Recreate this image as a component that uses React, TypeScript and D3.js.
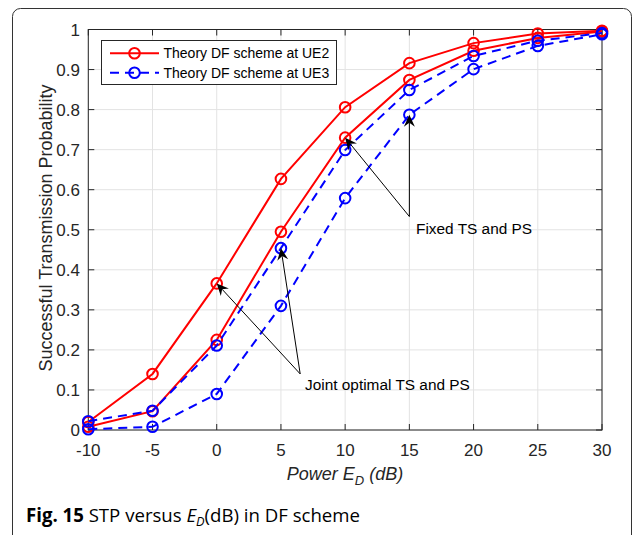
import React, { useEffect } from "react";
import * as d3 from "d3";

const xs = [-10, -5, 0, 5, 10, 15, 20, 25, 30];
const redJoint = [0.02, 0.14, 0.366, 0.627, 0.806, 0.916, 0.966, 0.99, 0.997];
const redFixed = [0.008, 0.047, 0.225, 0.495, 0.73, 0.874, 0.947, 0.979, 0.995];
const blueJoint = [0.022, 0.048, 0.211, 0.454, 0.699, 0.849, 0.934, 0.972, 0.991];
const blueFixed = [0.002, 0.008, 0.09, 0.31, 0.579, 0.787, 0.901, 0.959, 0.988];

const xTicks = [-10, -5, 0, 5, 10, 15, 20, 25, 30];
const yTicks = [0, 0.1, 0.2, 0.3, 0.4, 0.5, 0.6, 0.7, 0.8, 0.9, 1];
const legendLabels = ["Theory DF scheme at UE2", "Theory DF scheme at UE3"];
const jointText = "Joint optimal TS and PS";
const fixedText = "Fixed TS and PS";

const RED = "#ff0000";
const BLUE = "#0000ff";
const AX = "#262626";
const FONT = "'Liberation Sans', Arial, Helvetica, sans-serif";

function Arrow({ x1, y1, x2, y2 }: { x1: number; y1: number; x2: number; y2: number }) {
  const dx = x2 - x1, dy = y2 - y1;
  const L = Math.hypot(dx, dy);
  const ux = dx / L, uy = dy / L;
  const px = -uy, py = ux;
  const hl = 12, hw = 5.5, notch = 8;
  const bx = x2 - ux * hl, by = y2 - uy * hl;
  const nx = x2 - ux * notch, ny = y2 - uy * notch;
  const pts = [
    [x2, y2],
    [bx + px * hw, by + py * hw],
    [nx, ny],
    [bx - px * hw, by - py * hw],
  ];
  return (
    <g>
      <line x1={x1} y1={y1} x2={nx} y2={ny} stroke="#000" strokeWidth={1} />
      <polygon points={pts.map((p) => p.join(",")).join(" ")} fill="#000" />
    </g>
  );
}

export default function App() {
  useEffect(() => {
    document.body.style.margin = "0";
  }, []);

  const W = 636, H = 535;
  const x = d3.scaleLinear().domain([-10, 30]).range([88.3, 602]);
  const y = d3.scaleLinear().domain([0, 1]).range([430, 29.5]);
  const line = d3
    .line<number>()
    .x((_, i) => x(xs[i]))
    .y((d) => y(d));

  const series = [
    { data: redJoint, color: RED, dash: null },
    { data: redFixed, color: RED, dash: null },
    { data: blueJoint, color: BLUE, dash: "9,6" },
    { data: blueFixed, color: BLUE, dash: "9,6" },
  ];

  const x0 = x.range()[0], x1 = x.range()[1];
  const y0 = y.range()[0], y1 = y.range()[1];
  const tl = 6;

  const jointTail = { x: 6.5, y: 0.14 };
  const fixedTail = { x: 15, y: 0.533 };

  return (
    <svg width={W} height={H} style={{ display: "block" }}>
      <rect x={0} y={0} width={W} height={H} fill="#fff" />
      <rect x={12.5} y={8.5} width={619} height={600} rx={8} fill="none" stroke="#333" strokeWidth={1} />
      {xTicks.map((t) => (
        <line key={"gx" + t} x1={x(t)} x2={x(t)} y1={y0} y2={y1} stroke="#e3e3e3" strokeWidth={1} />
      ))}
      {yTicks.map((t) => (
        <line key={"gy" + t} x1={x0} x2={x1} y1={y(t)} y2={y(t)} stroke="#e3e3e3" strokeWidth={1} />
      ))}
      <rect x={x0} y={y1} width={x1 - x0} height={y0 - y1} fill="none" stroke={AX} strokeWidth={1} />
      {xTicks.map((t) => (
        <g key={"tx" + t}>
          <line x1={x(t)} x2={x(t)} y1={y0} y2={y0 - tl} stroke={AX} />
          <line x1={x(t)} x2={x(t)} y1={y1} y2={y1 + tl} stroke={AX} />
          <text x={x(t)} y={456} textAnchor="middle" fontFamily={FONT} fontSize={17} fill={AX}>
            {t}
          </text>
        </g>
      ))}
      {yTicks.map((t) => (
        <g key={"ty" + t}>
          <line x1={x0} x2={x0 + tl} y1={y(t)} y2={y(t)} stroke={AX} />
          <line x1={x1} x2={x1 - tl} y1={y(t)} y2={y(t)} stroke={AX} />
          <text x={80} y={y(t) + 6} textAnchor="end" fontFamily={FONT} fontSize={17} fill={AX}>
            {d3.format("")(t)}
          </text>
        </g>
      ))}
      {series.map((s, si) => (
        <g key={"s" + si}>
          <path d={line(s.data) || ""} fill="none" stroke={s.color} strokeWidth={2} strokeDasharray={s.dash || undefined} />
          {s.data.map((v, i) => (
            <circle key={i} cx={x(xs[i])} cy={y(v)} r={5.3} fill="none" stroke={s.color} strokeWidth={2} />
          ))}
        </g>
      ))}
      <Arrow x1={x(jointTail.x)} y1={y(jointTail.y)} x2={x(0)} y2={y(redJoint[2])} />
      <Arrow x1={x(jointTail.x)} y1={y(jointTail.y)} x2={x(5)} y2={y(blueJoint[3])} />
      <text x={305} y={390} fontFamily={FONT} fontSize={15.4} fill="#000">
        {jointText}
      </text>
      <Arrow x1={x(fixedTail.x)} y1={y(fixedTail.y)} x2={x(10)} y2={y(redFixed[4])} />
      <Arrow x1={x(fixedTail.x)} y1={y(fixedTail.y)} x2={x(15)} y2={y(blueFixed[5])} />
      <text x={416} y={234} fontFamily={FONT} fontSize={15.4} fill="#000">
        {fixedText}
      </text>
      <rect x={101.5} y={40.5} width={235} height={44} fill="#fff" stroke={AX} strokeWidth={1} />
      {legendLabels.map((lab, i) => {
        const ly = 53.3 + i * 19.4;
        const color = i === 0 ? RED : BLUE;
        return (
          <g key={"lg" + i}>
            <line x1={110} x2={159} y1={ly} y2={ly} stroke={color} strokeWidth={2} strokeDasharray={i === 1 ? "9,6" : undefined} />
            <circle cx={134.5} cy={ly} r={5.3} fill="none" stroke={color} strokeWidth={2} />
            <text x={163.5} y={ly + 5} fontFamily={FONT} fontSize={14} fill="#000">
              {lab}
            </text>
          </g>
        );
      })}
      <text x={345} y={480} textAnchor="middle" fontFamily={FONT} fontSize={18} fontStyle="italic" fill={AX}>
        Power E<tspan fontSize={13} dy={5}>D</tspan>
        <tspan dy={-5}> (dB)</tspan>
      </text>
      <text
        transform={`translate(52,228) rotate(-90)`}
        textAnchor="middle"
        fontFamily={FONT}
        fontSize={18}
        fill={AX}
      >
        Successful Transmission Probability
      </text>
      <g transform="translate(26,522) scale(0.98,1)">
        <text x={0} y={0} fontFamily="'Open Sans', 'Noto Sans', sans-serif" fontSize={19} fill="#000">
          <tspan fontWeight="bold">Fig. 15</tspan> STP versus <tspan fontStyle="italic">E</tspan><tspan fontStyle="italic" fontSize={13} dy={4}>D</tspan><tspan dy={-4}>(dB) in DF scheme</tspan>
        </text>
      </g>
    </svg>
  );
}
